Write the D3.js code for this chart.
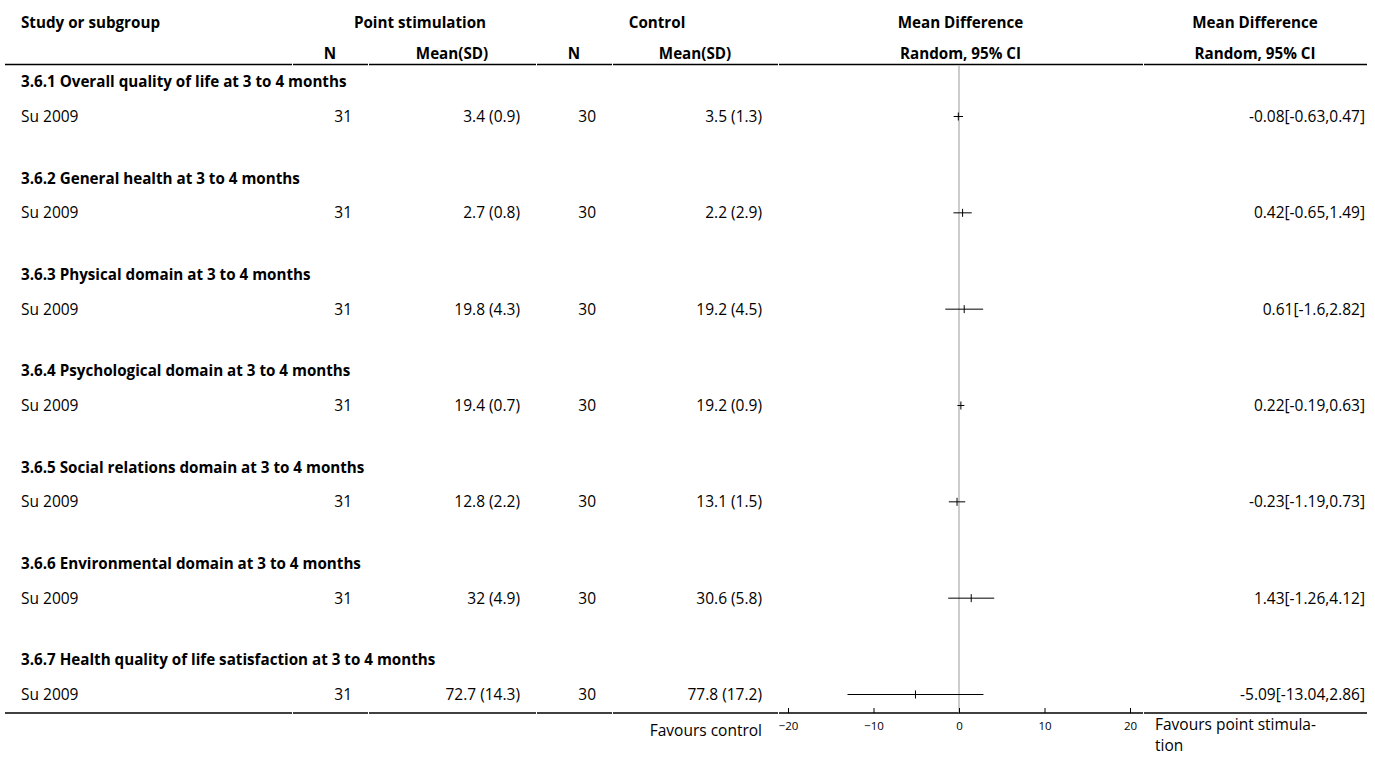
<!DOCTYPE html>
<head>
  <meta charset="utf-8">
  <script src="https://cdn.jsdelivr.net/npm/d3@7"></script>
  <style>
    body { margin:0; background:#fff; }
    text { font-family: "Open Sans", "Noto Sans", sans-serif; font-size: 15.5px; fill: #000; }
    .bold { font-weight: bold; font-size: 15.2px; }
    .tick text { font-size: 11.5px; }
  </style>
</head>
<body>
  <script>
    var width = 1375,
        height = 763;

    // data
    var subgroups = ["3.6.1 Overall quality of life at 3 to 4 months",
                     "3.6.2 General health at 3 to 4 months",
                     "3.6.3 Physical domain at 3 to 4 months",
                     "3.6.4 Psychological domain at 3 to 4 months",
                     "3.6.5 Social relations domain at 3 to 4 months",
                     "3.6.6 Environmental domain at 3 to 4 months",
                     "3.6.7 Health quality of life satisfaction at 3 to 4 months"];
    var studies = ["Su 2009", "Su 2009", "Su 2009", "Su 2009", "Su 2009", "Su 2009", "Su 2009"];
    var nPoint = [31, 31, 31, 31, 31, 31, 31];
    var meanPoint = ["3.4 (0.9)", "2.7 (0.8)", "19.8 (4.3)", "19.4 (0.7)", "12.8 (2.2)", "32 (4.9)", "72.7 (14.3)"];
    var nControl = [30, 30, 30, 30, 30, 30, 30];
    var meanControl = ["3.5 (1.3)", "2.2 (2.9)", "19.2 (4.5)", "19.2 (0.9)", "13.1 (1.5)", "30.6 (5.8)", "77.8 (17.2)"];
    var md = [-0.08, 0.42, 0.61, 0.22, -0.23, 1.43, -5.09];
    var ciLow = [-0.63, -0.65, -1.6, -0.19, -1.19, -1.26, -13.04];
    var ciHigh = [0.47, 1.49, 2.82, 0.63, 0.73, 4.12, 2.86];
    var axisTicks = [-20, -10, 0, 10, 20];

    var svg = d3.select("body")
      .append("svg")
      .attr("width", width)
      .attr("height", height);

    // column edges
    var cols = [5, 292, 368, 536, 612, 778, 1143, 1367];
    var pad = 16;

    var x = d3.scaleLinear().domain([-20, 20]).range([788, 1130]);
    var row = d3.scaleLinear().domain([0, 6]).range([82, 660]);
    var studyOffset = 34.5;
    var axisY = 713;

    function txt(xp, yp, s, anchor, cls) {
      return svg.append("text")
        .attr("x", xp).attr("y", yp).attr("dy", "0.35em")
        .attr("text-anchor", anchor)
        .attr("class", cls || null)
        .text(s);
    }

    // headers
    txt(cols[0] + pad, 22.5, "Study or subgroup", "start", "bold");
    txt((cols[1] + cols[3]) / 2 + 6, 22.5, "Point stimulation", "middle", "bold");
    txt((cols[3] + cols[5]) / 2, 22.5, "Control", "middle", "bold");
    txt((cols[5] + cols[6]) / 2, 22.5, "Mean Difference", "middle", "bold");
    txt((cols[6] + cols[7]) / 2, 22.5, "Mean Difference", "middle", "bold");
    txt((cols[1] + cols[2]) / 2, 54, "N", "middle", "bold");
    txt((cols[2] + cols[3]) / 2, 54, "Mean(SD)", "middle", "bold");
    txt((cols[3] + cols[4]) / 2, 54, "N", "middle", "bold");
    txt((cols[4] + cols[5]) / 2, 54, "Mean(SD)", "middle", "bold");
    txt((cols[5] + cols[6]) / 2, 54, "Random, 95% CI", "middle", "bold");
    txt((cols[6] + cols[7]) / 2, 54, "Random, 95% CI", "middle", "bold");

    // rules (one segment per column)
    [64.5, axisY].forEach(function(yy) {
      for (var i = 0; i < cols.length - 1; i++) {
        svg.append("line")
          .attr("x1", cols[i] + (i ? 1 : 0)).attr("x2", cols[i + 1])
          .attr("y1", yy).attr("y2", yy)
          .attr("stroke", "#000").attr("stroke-width", 1.5);
      }
    });

    // zero line
    svg.append("line")
      .attr("x1", x(0)).attr("x2", x(0))
      .attr("y1", 66).attr("y2", axisY)
      .attr("stroke", "#999").attr("stroke-width", 1);

    // rows
    subgroups.forEach(function(g, i) {
      var gy = row(i), sy = row(i) + studyOffset;
      txt(cols[0] + pad, gy, g, "start", "bold");
      txt(cols[0] + pad, sy, studies[i], "start");
      txt(cols[2] - pad, sy, nPoint[i], "end");
      txt(cols[3] - pad, sy, meanPoint[i], "end");
      txt(cols[4] - pad, sy, nControl[i], "end");
      txt(cols[5] - pad, sy, meanControl[i], "end");
      txt(cols[7] - 2, sy, md[i] + "[" + ciLow[i] + "," + ciHigh[i] + "]", "end");

      svg.append("line")
        .attr("x1", x(ciLow[i])).attr("x2", x(ciHigh[i]))
        .attr("y1", sy).attr("y2", sy)
        .attr("stroke", "#000").attr("stroke-width", 1);
      svg.append("line")
        .attr("x1", x(md[i])).attr("x2", x(md[i]))
        .attr("y1", sy - 4).attr("y2", sy + 4)
        .attr("stroke", "#000").attr("stroke-width", 1);
    });

    // axis: ticks point up, labels below
    var axis = d3.axisBottom(x)
      .tickValues(axisTicks)
      .tickSizeInner(-5)
      .tickSizeOuter(0)
      .tickPadding(9);
    var ax = svg.append("g")
      .attr("transform", "translate(0," + axisY + ")")
      .call(axis);
    ax.select(".domain").remove();
    ax.selectAll(".tick text").attr("font-family", null).attr("font-size", null);

    txt(cols[5] - pad, 731, "Favours control", "end");
    txt(cols[6] + 12, 725, "Favours point stimula-", "start");
    txt(cols[6] + 12, 746, "tion", "start");
  </script>
</body>
